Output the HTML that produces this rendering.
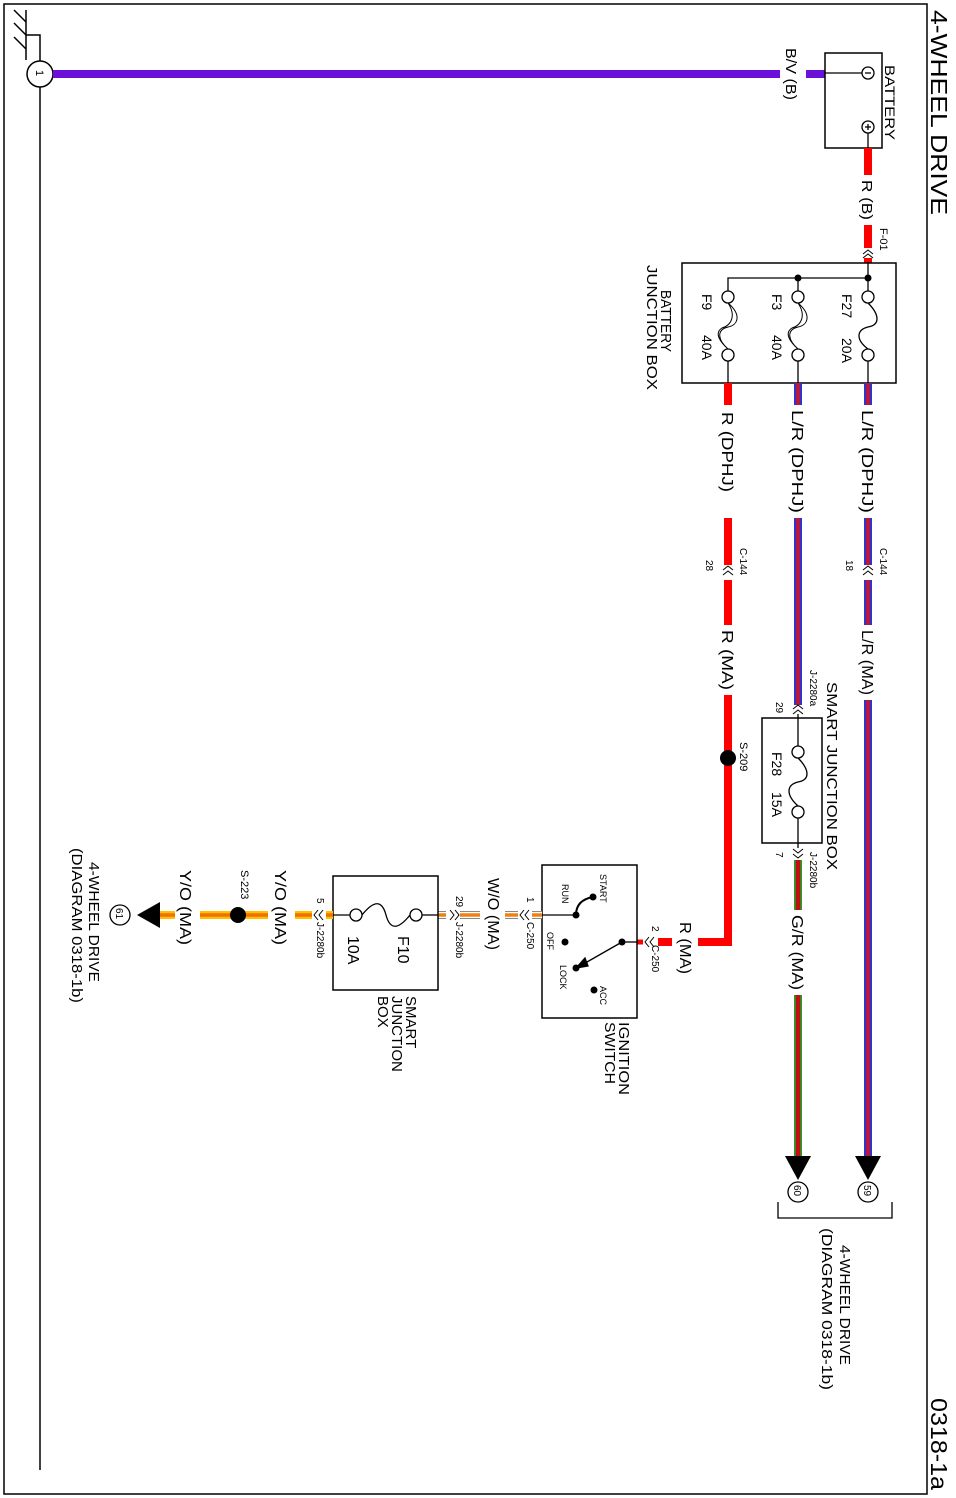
<!DOCTYPE html>
<html><head><meta charset="utf-8"><style>
html,body{margin:0;padding:0;background:#fff}
svg{display:block}
text{font-family:"Liberation Sans",Arial,sans-serif;fill:#000}
</style></head><body>
<svg width="956" height="1498" viewBox="0 0 956 1498" xmlns="http://www.w3.org/2000/svg">
<rect x="4" y="4" width="923" height="1490" fill="none" stroke="#000" stroke-width="1.5"/>
<text transform="translate(931,10) rotate(90)" font-size="23" textLength="205" lengthAdjust="spacingAndGlyphs">4-WHEEL DRIVE</text>
<text transform="translate(931,1398) rotate(90)" font-size="23" textLength="92" lengthAdjust="spacingAndGlyphs">0318-1a</text>

<!-- ground -->
<g stroke="#000" stroke-width="1.5" fill="none">
<line x1="26" y1="10" x2="26" y2="60"/>
<line x1="14" y1="10" x2="26" y2="22"/>
<line x1="14" y1="23" x2="26" y2="35"/>
<line x1="14" y1="37" x2="26" y2="49"/>
<polyline points="26,35 40,35 40,61"/>
<circle cx="40" cy="74" r="13" fill="#fff"/>
<line x1="40" y1="87" x2="40" y2="1470"/>
</g>
<text transform="translate(36,70) rotate(90)" font-size="11">1</text>

<!-- B/V wire -->
<line x1="53" y1="74" x2="780" y2="74" stroke="#6a10d8" stroke-width="8"/>
<line x1="806" y1="74" x2="825" y2="74" stroke="#6a10d8" stroke-width="8"/>
<text transform="translate(786,48) rotate(90)" font-size="15" textLength="52" lengthAdjust="spacingAndGlyphs">B/V (B)</text>

<!-- battery -->
<rect x="825" y="53" width="57" height="95" fill="#fff" stroke="#000" stroke-width="1.5"/>
<g stroke="#000" stroke-width="1.3" fill="#fff">
<line x1="825" y1="73" x2="862" y2="73"/>
<circle cx="868" cy="73" r="6"/>
<line x1="865" y1="73" x2="871" y2="73"/>
<circle cx="868" cy="127" r="6"/>
<line x1="865" y1="127" x2="871" y2="127"/><line x1="868" y1="124" x2="868" y2="130"/>
<line x1="868" y1="133" x2="868" y2="148"/>
</g>
<text transform="translate(885,65) rotate(90)" font-size="14" textLength="75" lengthAdjust="spacingAndGlyphs">BATTERY</text>

<!-- R(B) -->
<line x1="868" y1="148" x2="868" y2="175" stroke="#f00" stroke-width="8"/>
<text transform="translate(862,180) rotate(90)" font-size="15" textLength="40" lengthAdjust="spacingAndGlyphs">R (B)</text>
<line x1="868" y1="225" x2="868" y2="248" stroke="#f00" stroke-width="8"/>
<line x1="868" y1="258" x2="868" y2="263" stroke="#f00" stroke-width="8"/>
<g stroke="#000" stroke-width="1" fill="none">
<polyline points="863,254 868,250 873,254"/><polyline points="863,258 868,254 873,258"/>
</g>
<text transform="translate(880,228) rotate(90)" font-size="11">F-01</text>

<!-- battery junction box -->
<rect x="682" y="263" width="214" height="120" fill="#fff" stroke="#000" stroke-width="1.5"/>
<g stroke="#000" stroke-width="1.3" fill="#fff">
<line x1="868" y1="263" x2="868" y2="291"/>
<polyline points="868,278 728,278 728,291" fill="none"/>
<line x1="798" y1="278" x2="798" y2="291"/>
<circle cx="868" cy="297" r="6"/><circle cx="868" cy="355" r="6"/>
<circle cx="798" cy="297" r="6"/><circle cx="798" cy="355" r="6"/>
<circle cx="728" cy="297" r="6"/><circle cx="728" cy="355" r="6"/>
<path d="M868,303 C880,315 880,325 868,327 C856,330 856,340 868,349" fill="none"/>
<path d="M798,303 C812,315 808,325 798,327 C786,330 788,340 798,349 M798,303 C806,315 802,325 792,328 C784,333 790,342 798,349" fill="none" stroke-width="1"/>
<path d="M728,303 C742,315 738,325 728,327 C716,330 718,340 728,349 M728,303 C736,315 732,325 722,328 C714,333 720,342 728,349" fill="none" stroke-width="1"/>
<line x1="868" y1="361" x2="868" y2="383"/><line x1="798" y1="361" x2="798" y2="383"/><line x1="728" y1="361" x2="728" y2="383"/>
</g>
<circle cx="868" cy="278" r="3.5"/><circle cx="798" cy="278" r="3.5"/>
<text transform="translate(842,294) rotate(90)" font-size="14">F27</text>
<text transform="translate(842,338) rotate(90)" font-size="14">20A</text>
<text transform="translate(772,294) rotate(90)" font-size="14">F3</text>
<text transform="translate(772,335) rotate(90)" font-size="14">40A</text>
<text transform="translate(702,294) rotate(90)" font-size="14">F9</text>
<text transform="translate(702,335) rotate(90)" font-size="14">40A</text>
<text transform="translate(661,290) rotate(90)" font-size="15" textLength="62" lengthAdjust="spacingAndGlyphs">BATTERY</text>
<text transform="translate(647,265) rotate(90)" font-size="15" textLength="125" lengthAdjust="spacingAndGlyphs">JUNCTION BOX</text>

<!-- wires -->
<g stroke-linecap="butt">
<g stroke="#3333cc" stroke-width="8">
<line x1="868" y1="383" x2="868" y2="405"/><line x1="868" y1="518" x2="868" y2="565"/>
<line x1="868" y1="580" x2="868" y2="625"/><line x1="868" y1="700" x2="868" y2="1160"/>
<line x1="798" y1="383" x2="798" y2="405"/><line x1="798" y1="518" x2="798" y2="705"/>
</g>
<g stroke="#e01010" stroke-width="3">
<line x1="868" y1="383" x2="868" y2="405"/><line x1="868" y1="518" x2="868" y2="565"/>
<line x1="868" y1="580" x2="868" y2="625"/><line x1="868" y1="700" x2="868" y2="1160"/>
<line x1="798" y1="383" x2="798" y2="405"/><line x1="798" y1="518" x2="798" y2="705"/>
</g>
<g stroke="#f00" stroke-width="8">
<line x1="728" y1="383" x2="728" y2="405"/><line x1="728" y1="518" x2="728" y2="565"/>
<line x1="728" y1="580" x2="728" y2="625"/><line x1="728" y1="695" x2="728" y2="946"/>
<line x1="732" y1="942" x2="698" y2="942"/>
<line x1="672" y1="942" x2="658" y2="942"/>
</g>
</g>
<text transform="translate(862,410) rotate(90)" font-size="16" textLength="103" lengthAdjust="spacingAndGlyphs">L/R (DPHJ)</text>
<text transform="translate(792,410) rotate(90)" font-size="16" textLength="103" lengthAdjust="spacingAndGlyphs">L/R (DPHJ)</text>
<text transform="translate(722,412) rotate(90)" font-size="16" textLength="80" lengthAdjust="spacingAndGlyphs">R (DPHJ)</text>
<g stroke="#000" stroke-width="1" fill="none">
<polyline points="863,570 868,566 873,570"/><polyline points="863,575 868,571 873,575"/>
<polyline points="723,570 728,566 733,570"/><polyline points="723,575 728,571 733,575"/>
</g>
<text transform="translate(880,548) rotate(90)" font-size="10">C-144</text>
<text transform="translate(846,560) rotate(90)" font-size="10">18</text>
<text transform="translate(740,548) rotate(90)" font-size="10">C-144</text>
<text transform="translate(706,560) rotate(90)" font-size="10">28</text>
<text transform="translate(862,630) rotate(90)" font-size="16" textLength="65" lengthAdjust="spacingAndGlyphs">L/R (MA)</text>
<text transform="translate(722,630) rotate(90)" font-size="16" textLength="60" lengthAdjust="spacingAndGlyphs">R (MA)</text>
<circle cx="728" cy="758" r="8"/>
<text transform="translate(740,742) rotate(90)" font-size="11">S-209</text>

<!-- smart junction box F28 -->
<g stroke="#000" stroke-width="1" fill="none">
<polyline points="793,709 798,705 803,709"/><polyline points="793,714 798,710 803,714"/>
<polyline points="793,849 798,853 803,849"/><polyline points="793,854 798,858 803,854"/>
</g>
<text transform="translate(810,670) rotate(90)" font-size="10">J-2280a</text>
<text transform="translate(776,702) rotate(90)" font-size="10">29</text>
<rect x="762" y="718" width="60" height="125" fill="#fff" stroke="#000" stroke-width="1.5"/>
<g stroke="#000" stroke-width="1.3" fill="#fff">
<line x1="798" y1="714" x2="798" y2="746"/>
<circle cx="798" cy="752" r="6"/><circle cx="798" cy="812" r="6"/>
<path d="M798,758 C810,770 810,780 798,782 C786,785 786,795 798,806" fill="none"/>
<line x1="798" y1="818" x2="798" y2="848"/>
</g>
<text transform="translate(772,752) rotate(90)" font-size="14">F28</text>
<text transform="translate(772,792) rotate(90)" font-size="14">15A</text>
<text transform="translate(827,682) rotate(90)" font-size="15" textLength="188" lengthAdjust="spacingAndGlyphs">SMART JUNCTION BOX</text>
<text transform="translate(810,852) rotate(90)" font-size="10">J-2280b</text>
<text transform="translate(776,852) rotate(90)" font-size="10">7</text>
<!-- G/R -->
<line x1="798" y1="860" x2="798" y2="910" stroke="#2a9a2a" stroke-width="8"/>
<line x1="798" y1="995" x2="798" y2="1160" stroke="#2a9a2a" stroke-width="8"/>
<line x1="798" y1="860" x2="798" y2="910" stroke="#c01010" stroke-width="4.5"/>
<line x1="798" y1="995" x2="798" y2="1160" stroke="#c01010" stroke-width="4.5"/>
<text transform="translate(792,915) rotate(90)" font-size="16" textLength="75" lengthAdjust="spacingAndGlyphs">G/R (MA)</text>

<!-- arrows & circles 59, 60 -->
<polygon points="855,1156 881,1156 868,1180" fill="#000"/>
<polygon points="785,1156 811,1156 798,1180" fill="#000"/>
<circle cx="868" cy="1192" r="10" fill="#fff" stroke="#000" stroke-width="1.3"/>
<circle cx="798" cy="1192" r="10" fill="#fff" stroke="#000" stroke-width="1.3"/>
<text transform="translate(864,1185) rotate(90)" font-size="10">59</text>
<text transform="translate(794,1185) rotate(90)" font-size="10">60</text>
<polyline points="778,1202 778,1218 892,1218 892,1202" fill="none" stroke="#000" stroke-width="1.3"/>
<text transform="translate(840,1245) rotate(90)" font-size="15" textLength="120" lengthAdjust="spacingAndGlyphs">4-WHEEL DRIVE</text>
<text transform="translate(822,1228) rotate(90)" font-size="15" textLength="162" lengthAdjust="spacingAndGlyphs">(DIAGRAM 0318-1b)</text>

<!-- ignition switch -->
<g stroke="#000" stroke-width="1" fill="none">
<polyline points="654,937 650,942 654,947"/><polyline points="649,937 645,942 649,947"/>
</g>
<text transform="translate(652,926) rotate(90)" font-size="10">2</text>
<text transform="translate(652,945) rotate(90)" font-size="10">C-250</text>
<text transform="translate(680,922) rotate(90)" font-size="16" textLength="52" lengthAdjust="spacingAndGlyphs">R (MA)</text>
<line x1="643" y1="942" x2="637" y2="942" stroke="#f00" stroke-width="5"/>
<rect x="542" y="865" width="95" height="153" fill="#fff" stroke="#000" stroke-width="1.5"/>
<g stroke="#000" stroke-width="1.3" fill="none">
<line x1="637" y1="942" x2="622" y2="942"/>
<line x1="622" y1="942" x2="580" y2="966"/>
<polygon points="576,968 585,958 588,966" fill="#000"/>
<line x1="542" y1="915" x2="576" y2="915"/>
<path d="M576,915 C576,905 582,899 593,897" stroke-width="2"/>
</g>
<circle cx="622" cy="942" r="3.5"/><circle cx="576" cy="915" r="3.5"/><circle cx="593" cy="897" r="3.5"/>
<circle cx="565" cy="942" r="3.5"/><circle cx="576" cy="968" r="3.5"/><circle cx="594" cy="990" r="3.5"/>
<text transform="translate(600,874) rotate(90)" font-size="9">START</text>
<text transform="translate(562,884) rotate(90)" font-size="9">RUN</text>
<text transform="translate(547,932) rotate(90)" font-size="9">OFF</text>
<text transform="translate(560,965) rotate(90)" font-size="9">LOCK</text>
<text transform="translate(600,986) rotate(90)" font-size="9">ACC</text>
<text transform="translate(619,1022) rotate(90)" font-size="15" textLength="73" lengthAdjust="spacingAndGlyphs">IGNITION</text>
<text transform="translate(605,1022) rotate(90)" font-size="15" textLength="62" lengthAdjust="spacingAndGlyphs">SWITCH</text>

<!-- W/O -->
<g stroke="#888" stroke-width="8">
<line x1="542" y1="915" x2="532" y2="915"/><line x1="518" y1="915" x2="505" y2="915"/>
<line x1="480" y1="915" x2="460" y2="915"/><line x1="446" y1="915" x2="438" y2="915"/>
</g>
<g stroke="#fff" stroke-width="6">
<line x1="542" y1="915" x2="532" y2="915"/><line x1="518" y1="915" x2="505" y2="915"/>
<line x1="480" y1="915" x2="460" y2="915"/><line x1="446" y1="915" x2="438" y2="915"/>
</g>
<g stroke="#f08010" stroke-width="3.5">
<line x1="542" y1="915" x2="532" y2="915"/><line x1="518" y1="915" x2="505" y2="915"/>
<line x1="480" y1="915" x2="460" y2="915"/><line x1="446" y1="915" x2="438" y2="915"/>
</g>
<g stroke="#000" stroke-width="1" fill="none">
<polyline points="529,910 525,915 529,920"/><polyline points="524,910 520,915 524,920"/>
<polyline points="450,910 454,915 450,920"/><polyline points="455,910 459,915 455,920"/>
</g>
<text transform="translate(527,897) rotate(90)" font-size="10">1</text>
<text transform="translate(527,922) rotate(90)" font-size="10">C-250</text>
<text transform="translate(488,878) rotate(90)" font-size="16" textLength="72" lengthAdjust="spacingAndGlyphs">W/O (MA)</text>
<text transform="translate(456,896) rotate(90)" font-size="10">29</text>
<text transform="translate(456,922) rotate(90)" font-size="10">J-2280b</text>

<!-- smart junction box F10 -->
<rect x="333" y="876" width="105" height="114" fill="#fff" stroke="#000" stroke-width="1.5"/>
<g stroke="#000" stroke-width="1.3" fill="#fff">
<line x1="438" y1="915" x2="422" y2="915"/>
<circle cx="416" cy="915" r="6"/><circle cx="356" cy="915" r="6"/>
<path d="M410,915 C398,930 390,930 386,915 C382,900 374,900 362,915" fill="none"/>
<line x1="350" y1="915" x2="333" y2="915"/>
</g>
<text transform="translate(398,936) rotate(90)" font-size="16">F10</text>
<text transform="translate(348,936) rotate(90)" font-size="16">10A</text>
<text transform="translate(406,996) rotate(90)" font-size="15">SMART</text>
<text transform="translate(392,996) rotate(90)" font-size="15">JUNCTION</text>
<text transform="translate(378,996) rotate(90)" font-size="15">BOX</text>

<!-- Y/O -->
<g stroke="#ffc000" stroke-width="8">
<line x1="333" y1="915" x2="326" y2="915"/><line x1="312" y1="915" x2="295" y2="915"/>
<line x1="268" y1="915" x2="200" y2="915"/><line x1="175" y1="915" x2="160" y2="915"/>
</g>
<g stroke="#f07000" stroke-width="3.5">
<line x1="333" y1="915" x2="326" y2="915"/><line x1="312" y1="915" x2="295" y2="915"/>
<line x1="268" y1="915" x2="200" y2="915"/><line x1="175" y1="915" x2="160" y2="915"/>
</g>
<g stroke="#000" stroke-width="1" fill="none">
<polyline points="323,910 319,915 323,920"/><polyline points="318,910 314,915 318,920"/>
</g>
<text transform="translate(317,898) rotate(90)" font-size="10">5</text>
<text transform="translate(317,922) rotate(90)" font-size="10">J-2280b</text>
<text transform="translate(275,870) rotate(90)" font-size="16" textLength="75" lengthAdjust="spacingAndGlyphs">Y/O (MA)</text>
<circle cx="238" cy="915" r="8"/>
<text transform="translate(241,870) rotate(90)" font-size="11">S-223</text>
<text transform="translate(180,870) rotate(90)" font-size="16" textLength="75" lengthAdjust="spacingAndGlyphs">Y/O (MA)</text>
<polygon points="160,902 160,928 137,915" fill="#000"/>
<circle cx="120" cy="915" r="10" fill="#fff" stroke="#000" stroke-width="1.3"/>
<text transform="translate(116,908) rotate(90)" font-size="10">61</text>
<text transform="translate(89,862) rotate(90)" font-size="15" textLength="120" lengthAdjust="spacingAndGlyphs">4-WHEEL DRIVE</text>
<text transform="translate(72,848) rotate(90)" font-size="15" textLength="155" lengthAdjust="spacingAndGlyphs">(DIAGRAM 0318-1b)</text>
</svg>
</body></html>
